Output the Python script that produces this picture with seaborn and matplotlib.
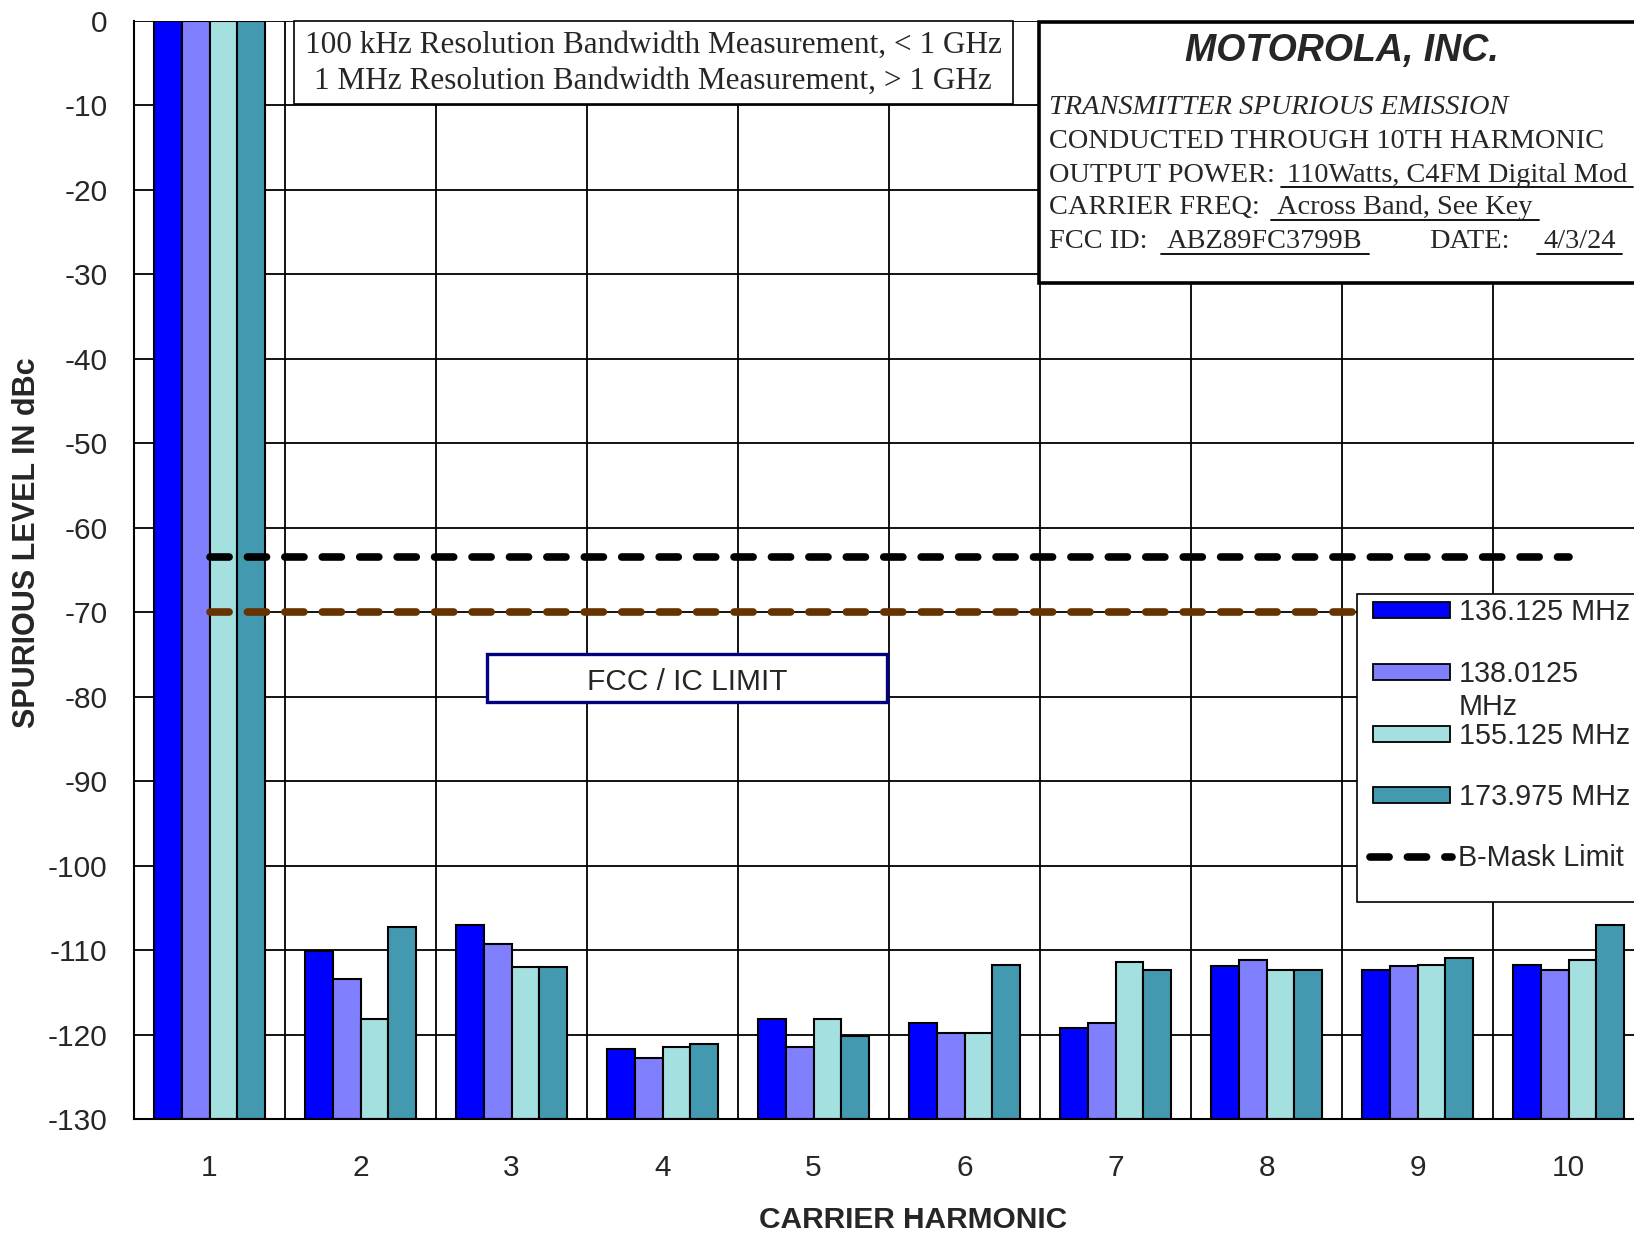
import numpy as np
import pandas as pd
import matplotlib
matplotlib.use("Agg")
import matplotlib.pyplot as plt
import seaborn as sns
from matplotlib.patches import Rectangle
from matplotlib.lines import Line2D

# ---------------- data ----------------
harmonics = ["1", "2", "3", "4", "5", "6", "7", "8", "9", "10"]
freq_labels = ["136.125 MHz", "138.0125 MHz", "155.125 MHz", "173.975 MHz"]
level_136 = [0, -110.1, -107.0, -121.7, -118.1, -118.6, -119.2, -111.9, -112.3, -111.7]
level_138 = [0, -113.4, -109.2, -122.8, -121.4, -119.8, -118.6, -111.1, -111.9, -112.3]
level_155 = [0, -118.1, -112.0, -121.4, -118.1, -119.8, -111.4, -112.3, -111.7, -111.2]
level_174 = [0, -107.2, -112.0, -121.1, -120.1, -111.7, -112.3, -112.3, -110.9, -107.0]
b_mask_limit = [-63.5, -63.5, -63.5, -63.5, -63.5, -63.5, -63.5, -63.5, -63.5, -63.5]
fcc_ic_limit = [-70, -70, -70, -70, -70, -70, -70, -70, -70, -70]
y_floor = -130
y_ticks = [0, -10, -20, -30, -40, -50, -60, -70, -80, -90, -100, -110, -120, -130]

bar_colors = ["#0000FF", "#8080FF", "#A4E0E0", "#4399B0"]
mask_color = "#000000"
fcc_color = "#663300"

W, H = 1634, 1235

sns.set_style("white")
plt.rcParams["font.family"] = ["Liberation Sans", "DejaVu Sans"]
plt.rcParams["axes.unicode_minus"] = False

fig = plt.figure(figsize=(W / 100, H / 100), dpi=100)
ax = fig.add_axes([134 / W, 1 - 1119.3 / H, 1510 / W, (1119.3 - 20.8) / H])

levels = [level_136, level_138, level_155, level_174]
rows = []
for lab, vals in zip(freq_labels, levels):
    for h, v in zip(harmonics, vals):
        rows.append({"harmonic": h, "freq": lab, "level": v, "height": v - y_floor})
df = pd.DataFrame(rows)

sns.barplot(data=df, x="harmonic", y="height", hue="freq", order=harmonics,
            hue_order=freq_labels, palette=bar_colors, saturation=1, width=0.73, gap=0,
            dodge=True, errorbar=None, edgecolor="black", linewidth=1.5,
            bottom=y_floor, legend=False, ax=ax, zorder=2)

xpos = np.arange(len(harmonics))
ln1 = ax.plot(xpos, fcc_ic_limit, color=fcc_color, lw=5.5, zorder=4)[0]
ln2 = ax.plot(xpos, b_mask_limit, color=mask_color, lw=5.5, zorder=4)[0]
for ln in (ln1, ln2):
    ln.set_dashes([2.5, 2.4])
    ln.set_dash_capstyle("round")

ax.set_ylim(y_floor, 0)
ax.set_xlim(-0.5, len(harmonics) - 0.5)
ax.set_yticks(y_ticks)
ax.set_xticks(np.arange(-0.5, len(harmonics), 1), minor=True)
ax.tick_params(axis="y", direction="out", length=7, width=1.2, pad=12,
               labelsize=21.5, color="black")
ax.tick_params(axis="x", which="major", length=0, pad=25, labelsize=21.5)
ax.tick_params(axis="x", which="minor", direction="out", length=8, width=1.2,
               color="black")
ax.grid(axis="y", which="major", color="black", lw=1.3)
ax.grid(axis="x", which="minor", color="black", lw=1.3)
ax.set_axisbelow(True)
for s in ["left", "bottom"]:
    ax.spines[s].set_color("black")
    ax.spines[s].set_linewidth(1.5)
ax.spines["top"].set_visible(False)
ax.spines["right"].set_visible(False)

ax.set_xlabel("CARRIER HARMONIC", fontsize=21.5, fontweight="bold")
ax.set_ylabel("SPURIOUS LEVEL IN dBc", fontsize=22, fontweight="bold")
ax.xaxis.label.set_va("center")
ax.yaxis.label.set_va("center")
ax.xaxis.set_label_coords((913 - 134) / 1510, (1119.3 - 1220) / 1098.5)
ax.yaxis.set_label_coords((27 - 134) / 1510, 0.525)


def F(x, y):
    return (x / W, 1 - y / H)


def box(x0, y0, x1, y1, ec="black", lw=1.2):
    r = Rectangle(F(x0, y1), (x1 - x0) / W, (y1 - y0) / H, transform=fig.transFigure,
                  facecolor="white", edgecolor=ec, lw=lw, clip_on=False, zorder=5)
    fig.add_artist(r)


serif = ["Liberation Serif", "DejaVu Serif"]

# top note box
box(294, 21, 1013, 104)
fig.text(*F(653, 45), "100 kHz Resolution Bandwidth Measurement, < 1 GHz", ha="center",
         va="center", family=serif, size=22.5, zorder=6)
fig.text(*F(653, 81), "1 MHz Resolution Bandwidth Measurement, > 1 GHz", ha="center",
         va="center", family=serif, size=22.5, zorder=6)

# Motorola box
box(1039, 22, 1700, 283, lw=2.6)
fig.text(*F(1342, 51), "MOTOROLA, INC.", ha="center", va="center", size=27,
         fontweight="bold", fontstyle="italic", zorder=6)
fs = 20.4
fig.text(*F(1049, 108), "TRANSMITTER SPURIOUS EMISSION", va="center", family=serif,
         size=fs, fontstyle="italic", zorder=6)
fig.text(*F(1049, 142), "CONDUCTED THROUGH 10TH HARMONIC", va="center", family=serif,
         size=fs, zorder=6)
fig.text(*F(1049, 175), "OUTPUT POWER:", va="center", family=serif, size=fs, zorder=6)
fig.text(*F(1049, 208), "CARRIER FREQ:", va="center", family=serif, size=fs, zorder=6)
fig.text(*F(1049, 242), "FCC ID:", va="center", family=serif, size=fs, zorder=6)
fig.text(*F(1429, 242), "DATE:", va="center", family=serif, size=fs, zorder=6)
under = [
    fig.text(*F(1287, 175), "110Watts, C4FM Digital Mod", va="center", family=serif, size=fs, zorder=6),
    fig.text(*F(1277, 208), "Across Band, See Key", va="center", family=serif, size=fs, zorder=6),
    fig.text(*F(1167, 242), "ABZ89FC3799B", va="center", family=serif, size=fs, zorder=6),
    fig.text(*F(1543, 242), "4/3/24", va="center", family=serif, size=fs, zorder=6),
]

# FCC / IC limit label
box(487, 654, 887, 702, ec="#000080", lw=2.4)
fig.text(*F(687, 682), "FCC / IC LIMIT", ha="center", va="center", size=21.5, zorder=6)

# legend
box(1357, 594, 1700, 902)
for lab, col, yc in zip(freq_labels, bar_colors, [610, 672, 734, 795]):
    fig.add_artist(Rectangle(F(1373, yc + 8), 77 / W, 16 / H, transform=fig.transFigure,
                             facecolor=col, edgecolor="black", lw=1.3, zorder=6))
    if lab == "138.0125 MHz":
        first, second = lab.split(" ")
        fig.text(*F(1459, yc + 2), first, va="center", size=20.7, zorder=6)
        fig.text(*F(1459, yc + 35), second, va="center", size=20.7, zorder=6)
    else:
        fig.text(*F(1459, yc + 2), lab, va="center", size=20.7, zorder=6)
lg = Line2D([1370 / W, 1452 / W], [1 - 857 / H, 1 - 857 / H], transform=fig.transFigure,
            color=mask_color, lw=5.5, zorder=6)
lg.set_dashes([2.5, 2.4])
lg.set_dash_capstyle("round")
fig.add_artist(lg)
fig.text(*F(1458, 858), "B-Mask Limit", va="center", size=20.7, zorder=6)

# underlines
fig.canvas.draw()
r = fig.canvas.get_renderer()
for t in under:
    bb = t.get_window_extent(r)
    yline = (bb.y0 + 1) / H
    fig.add_artist(Line2D([(bb.x0 - 6) / W, (bb.x1 + 6) / W], [yline, yline],
                          transform=fig.transFigure, color="black", lw=1.3, zorder=6))

fig.savefig("out.png", dpi=100)
